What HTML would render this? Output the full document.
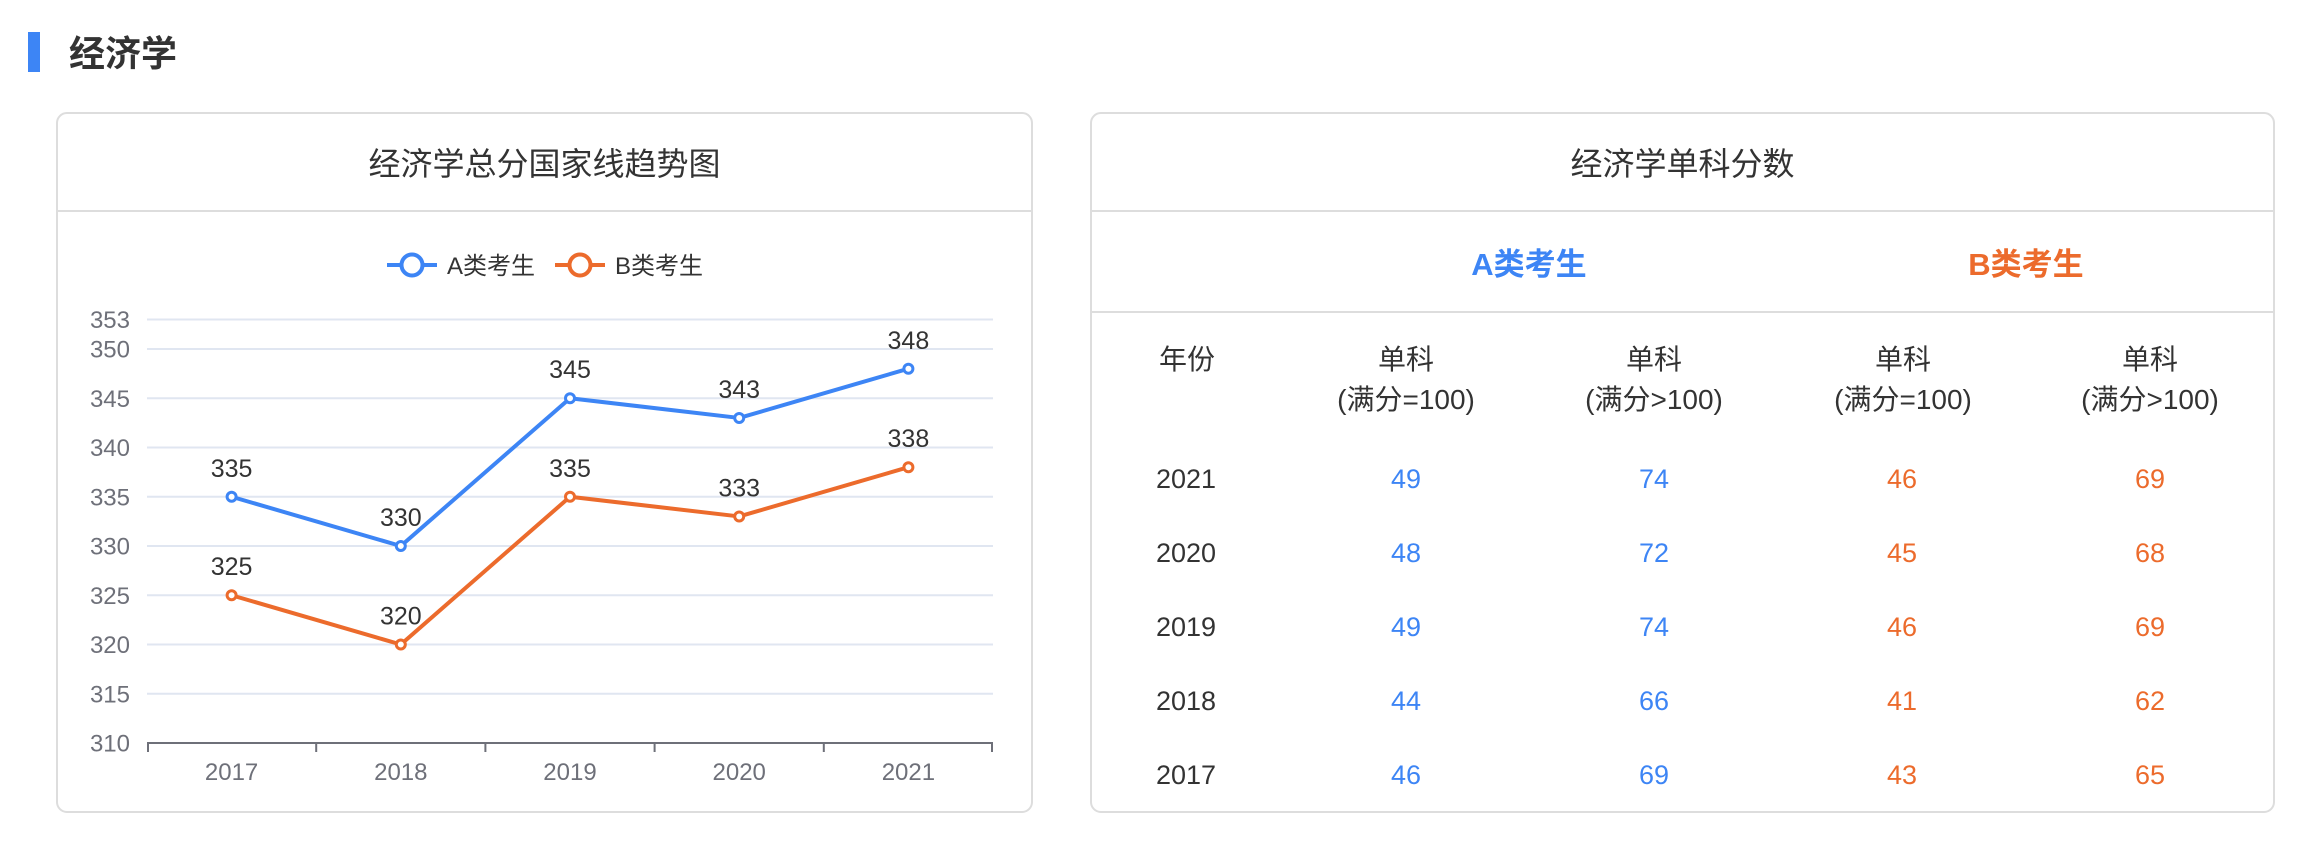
<!DOCTYPE html>
<html>
<head>
<meta charset="utf-8">
<style>
  html, body { margin: 0; padding: 0; background: #ffffff; }
  body { width: 2322px; height: 842px; overflow: hidden; }
  svg { display: block; }
  text { font-family: "Liberation Sans", "Noto Sans CJK SC", sans-serif; }
</style>
</head>
<body>
<svg width="2322" height="842" viewBox="0 0 2322 842" xmlns="http://www.w3.org/2000/svg">
  <rect x="0" y="0" width="2322" height="842" fill="#ffffff"/>

  <!-- Section title -->
  <rect x="28" y="32" width="12" height="40" fill="#3d85f5"/>
  <text x="69" y="66" font-size="36" font-weight="bold" fill="#333333">经济学</text>

  <!-- Left card -->
  <rect x="57" y="113" width="975" height="699" rx="10" ry="10" fill="#ffffff" stroke="#dddddd" stroke-width="2"/>
  <line x1="58" y1="211" x2="1031" y2="211" stroke="#dddddd" stroke-width="2"/>
  <text x="544.5" y="175" font-size="32" fill="#333333" text-anchor="middle">经济学总分国家线趋势图</text>

  <!-- Legend -->
  <line x1="387" y1="265" x2="437" y2="265" stroke="#3d85f5" stroke-width="4"/>
  <circle cx="412" cy="265" r="10.5" fill="#ffffff" stroke="#3d85f5" stroke-width="4"/>
  <text x="447" y="274" font-size="24" fill="#333333">A类考生</text>
  <line x1="555" y1="265" x2="605" y2="265" stroke="#ec6b2c" stroke-width="4"/>
  <circle cx="580" cy="265" r="10.5" fill="#ffffff" stroke="#ec6b2c" stroke-width="4"/>
  <text x="615" y="274" font-size="24" fill="#333333">B类考生</text>

  <!-- Grid lines -->
  <g stroke="#e0e6f1" stroke-width="2">
    <line x1="147" y1="319.5" x2="993" y2="319.5"/>
    <line x1="147" y1="349" x2="993" y2="349"/>
    <line x1="147" y1="398.25" x2="993" y2="398.25"/>
    <line x1="147" y1="447.5" x2="993" y2="447.5"/>
    <line x1="147" y1="496.75" x2="993" y2="496.75"/>
    <line x1="147" y1="546" x2="993" y2="546"/>
    <line x1="147" y1="595.25" x2="993" y2="595.25"/>
    <line x1="147" y1="644.5" x2="993" y2="644.5"/>
    <line x1="147" y1="693.75" x2="993" y2="693.75"/>
  </g>

  <!-- Y axis labels -->
  <g font-size="24" fill="#6e7079" text-anchor="end">
    <text x="130" y="328">353</text>
    <text x="130" y="357.6">350</text>
    <text x="130" y="406.9">345</text>
    <text x="130" y="456.1">340</text>
    <text x="130" y="505.4">335</text>
    <text x="130" y="554.6">330</text>
    <text x="130" y="603.9">325</text>
    <text x="130" y="653.1">320</text>
    <text x="130" y="702.4">315</text>
    <text x="130" y="751.6">310</text>
  </g>

  <!-- X axis -->
  <line x1="147" y1="743" x2="993" y2="743" stroke="#6e7079" stroke-width="2"/>
  <g stroke="#6e7079" stroke-width="2">
    <line x1="148" y1="743" x2="148" y2="752"/>
    <line x1="316.2" y1="743" x2="316.2" y2="752"/>
    <line x1="485.4" y1="743" x2="485.4" y2="752"/>
    <line x1="654.6" y1="743" x2="654.6" y2="752"/>
    <line x1="823.8" y1="743" x2="823.8" y2="752"/>
    <line x1="992" y1="743" x2="992" y2="752"/>
  </g>
  <g font-size="24" fill="#6e7079" text-anchor="middle">
    <text x="231.6" y="780">2017</text>
    <text x="400.8" y="780">2018</text>
    <text x="570" y="780">2019</text>
    <text x="739.2" y="780">2020</text>
    <text x="908.4" y="780">2021</text>
  </g>

  <!-- Series B (orange) -->
  <polyline points="231.6,595.25 400.8,644.5 570,496.75 739.2,516.45 908.4,467.2" fill="none" stroke="#ec6b2c" stroke-width="4" stroke-linejoin="round"/>
  <g fill="#ffffff" stroke="#ec6b2c" stroke-width="3">
    <circle cx="231.6" cy="595.25" r="4.5"/>
    <circle cx="400.8" cy="644.5" r="4.5"/>
    <circle cx="570" cy="496.75" r="4.5"/>
    <circle cx="739.2" cy="516.45" r="4.5"/>
    <circle cx="908.4" cy="467.2" r="4.5"/>
  </g>

  <!-- Series A (blue) -->
  <polyline points="231.6,496.75 400.8,546 570,398.25 739.2,417.95 908.4,368.7" fill="none" stroke="#3d85f5" stroke-width="4" stroke-linejoin="round"/>
  <g fill="#ffffff" stroke="#3d85f5" stroke-width="3">
    <circle cx="231.6" cy="496.75" r="4.5"/>
    <circle cx="400.8" cy="546" r="4.5"/>
    <circle cx="570" cy="398.25" r="4.5"/>
    <circle cx="739.2" cy="417.95" r="4.5"/>
    <circle cx="908.4" cy="368.7" r="4.5"/>
  </g>

  <!-- Data labels -->
  <g font-size="25" fill="#333333" text-anchor="middle">
    <text x="231.6" y="477">335</text>
    <text x="400.8" y="526">330</text>
    <text x="570" y="378">345</text>
    <text x="739.2" y="398">343</text>
    <text x="908.4" y="349">348</text>
    <text x="231.6" y="575">325</text>
    <text x="400.8" y="624.5">320</text>
    <text x="570" y="477">335</text>
    <text x="739.2" y="496.5">333</text>
    <text x="908.4" y="447">338</text>
  </g>

  <!-- Right card -->
  <rect x="1091" y="113" width="1183" height="699" rx="10" ry="10" fill="#ffffff" stroke="#dddddd" stroke-width="2"/>
  <line x1="1092" y1="211" x2="2273" y2="211" stroke="#dddddd" stroke-width="2"/>
  <line x1="1092" y1="312" x2="2273" y2="312" stroke="#dddddd" stroke-width="2"/>
  <text x="1682.5" y="175" font-size="32" fill="#333333" text-anchor="middle">经济学单科分数</text>

  <text x="1529" y="275" font-size="31" font-weight="bold" fill="#3d85f5" text-anchor="middle">A类考生</text>
  <text x="2026" y="275" font-size="31" font-weight="bold" fill="#ec6b2c" text-anchor="middle">B类考生</text>

  <!-- Table header -->
  <g font-size="28" fill="#333333" text-anchor="middle">
    <text x="1187" y="369">年份</text>
    <text x="1406" y="369">单科</text>
    <text x="1406" y="409">(满分=100)</text>
    <text x="1654" y="369">单科</text>
    <text x="1654" y="409">(满分&gt;100)</text>
    <text x="1903" y="369">单科</text>
    <text x="1903" y="409">(满分=100)</text>
    <text x="2150" y="369">单科</text>
    <text x="2150" y="409">(满分&gt;100)</text>
  </g>

  <!-- Table rows -->
  <g font-size="27" text-anchor="middle">
    <g fill="#333333">
      <text x="1186" y="488">2021</text>
      <text x="1186" y="562">2020</text>
      <text x="1186" y="636">2019</text>
      <text x="1186" y="710">2018</text>
      <text x="1186" y="784">2017</text>
    </g>
    <g fill="#3d85f5">
      <text x="1406" y="488">49</text>
      <text x="1406" y="562">48</text>
      <text x="1406" y="636">49</text>
      <text x="1406" y="710">44</text>
      <text x="1406" y="784">46</text>
      <text x="1654" y="488">74</text>
      <text x="1654" y="562">72</text>
      <text x="1654" y="636">74</text>
      <text x="1654" y="710">66</text>
      <text x="1654" y="784">69</text>
    </g>
    <g fill="#ec6b2c">
      <text x="1902" y="488">46</text>
      <text x="1902" y="562">45</text>
      <text x="1902" y="636">46</text>
      <text x="1902" y="710">41</text>
      <text x="1902" y="784">43</text>
      <text x="2150" y="488">69</text>
      <text x="2150" y="562">68</text>
      <text x="2150" y="636">69</text>
      <text x="2150" y="710">62</text>
      <text x="2150" y="784">65</text>
    </g>
  </g>
</svg>
</body>
</html>
